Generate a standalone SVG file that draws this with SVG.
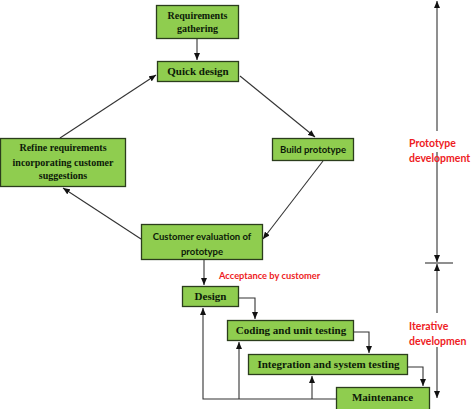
<svg xmlns="http://www.w3.org/2000/svg" width="474" height="409" viewBox="0 0 474 409">
<style>
.box{fill:#8fcd4f;stroke:#2b3d1c;stroke-width:1.3}
.sr{font-family:"Liberation Serif",serif;font-weight:bold;fill:#0c1a08;text-anchor:middle}
.ss{font-family:Lato,"Liberation Sans",sans-serif;font-weight:bold;fill:#0c1a08;text-anchor:middle}
.red{font-family:Lato,"Liberation Sans",sans-serif;font-weight:bold;fill:#ee1c24}
.c{fill:none;stroke:#333;stroke-width:1.1}
</style>
<defs>
<marker id="a" markerUnits="userSpaceOnUse" markerWidth="8" markerHeight="6" refX="7" refY="3" orient="auto">
<path d="M0,0 L7,3 L0,6 z" fill="#111"/>
</marker>
</defs>
<rect width="474" height="409" fill="#fff"/>
<g id="connectors">
<line class="c" x1="197" y1="39" x2="197" y2="60" marker-end="url(#a)"/>
<line class="c" x1="240" y1="76" x2="315" y2="137" marker-end="url(#a)"/>
<line class="c" x1="323" y1="161" x2="263" y2="239" marker-end="url(#a)"/>
<line class="c" x1="141" y1="239" x2="63" y2="188" marker-end="url(#a)"/>
<line class="c" x1="60" y1="138" x2="156" y2="75" marker-end="url(#a)"/>
<line class="c" x1="204" y1="260" x2="204" y2="285" marker-end="url(#a)"/>
<polyline class="c" points="239,298 255,298 255,319" marker-end="url(#a)"/>
<polyline class="c" points="354,332 369,332 369,353" marker-end="url(#a)"/>
<polyline class="c" points="408,367 423,367 423,386" marker-end="url(#a)"/>
<polyline class="c" points="336,399 203,399 203,308" marker-end="url(#a)"/>
<line class="c" x1="239" y1="399" x2="239" y2="342" marker-end="url(#a)"/>
<line class="c" x1="312" y1="399" x2="312" y2="376" marker-end="url(#a)"/>
<line class="c" x1="437" y1="131" x2="437" y2="1" marker-end="url(#a)"/>
<line class="c" x1="437" y1="152" x2="437" y2="262" marker-end="url(#a)"/>
<line class="c" x1="425" y1="263" x2="453" y2="263"/>
<line class="c" x1="437" y1="313" x2="437" y2="264" marker-end="url(#a)"/>
<line class="c" x1="437" y1="347" x2="437" y2="398" marker-end="url(#a)"/>
</g>
<g id="req">
<rect class="box" x="156.5" y="5.5" width="82" height="33"/>
<text class="sr" font-size="10" x="197.5" y="19">Requirements</text>
<text class="sr" font-size="10" x="197.5" y="32">gathering</text>
</g>
<g id="quick">
<rect class="box" x="157.5" y="61.5" width="81" height="20"/>
<text class="sr" font-size="11" x="198" y="75">Quick design</text>
</g>
<g id="refine">
<rect class="box" x="0.5" y="138.5" width="125" height="48"/>
<text class="sr" font-size="10" x="63" y="151">Refine requirements</text>
<text class="sr" font-size="10" x="63" y="166">incorporating customer</text>
<text class="sr" font-size="10" x="63" y="179">suggestions</text>
</g>
<g id="build">
<rect class="box" x="272.5" y="138.5" width="81" height="22"/>
<text class="ss" font-size="9.5" x="313" y="153">Build prototype</text>
</g>
<g id="eval">
<rect class="box" x="141.5" y="224.5" width="121" height="35"/>
<text class="ss" font-size="9.5" x="202" y="240">Customer evaluation of</text>
<text class="ss" font-size="9.5" x="202" y="255">prototype</text>
</g>
<text class="red" font-size="9.3" x="219" y="279">Acceptance by customer</text>
<g id="design">
<rect class="box" x="182.5" y="286.5" width="56" height="20"/>
<text class="sr" font-size="11" x="210.5" y="300">Design</text>
</g>
<g id="coding">
<rect class="box" x="227.5" y="320.5" width="126" height="20"/>
<text class="sr" font-size="11" x="291" y="334">Coding and unit testing</text>
</g>
<g id="integration">
<rect class="box" x="248.5" y="354.5" width="159" height="20"/>
<text class="sr" font-size="11" x="328.5" y="368">Integration and system testing</text>
</g>
<g id="maintenance">
<rect class="box" x="336.5" y="387.5" width="93" height="25"/>
<text class="sr" font-size="11" x="382.5" y="401">Maintenance</text>
</g>
<text class="red" font-size="10.5" x="409" y="147">Prototype</text>
<text class="red" font-size="10.5" x="409" y="162">development</text>
<text class="red" font-size="10.5" x="409" y="330">Iterative</text>
<text class="red" font-size="10.5" x="409" y="345">developmen</text>
</svg>
